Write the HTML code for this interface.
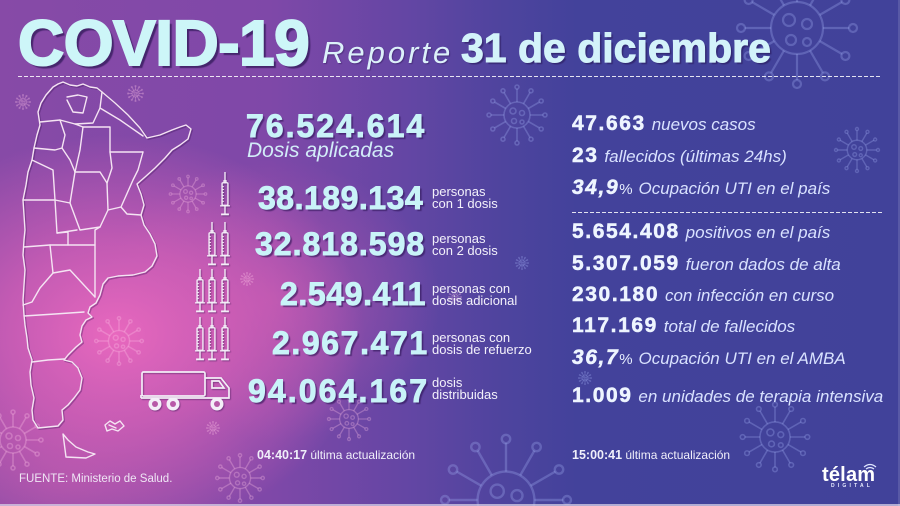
<!DOCTYPE html>
<html><head><meta charset="utf-8">
<style>
*{margin:0;padding:0;box-sizing:border-box}
html,body{width:900px;height:506px;overflow:hidden}
body{position:relative;font-family:"Liberation Sans",sans-serif;
background:
 radial-gradient(ellipse 250px 200px at 115px 335px, rgba(232,104,190,1) 0%, rgba(228,100,186,.65) 45%, rgba(220,96,180,0) 100%),
 radial-gradient(ellipse 170px 140px at 270px 300px, rgba(205,92,178,.55) 0%, rgba(205,92,178,0) 100%),
 radial-gradient(ellipse 200px 120px at 60px 480px, rgba(190,90,170,.5) 0%, rgba(190,90,170,0) 100%),
 linear-gradient(90deg,#874aa7 0%,#7f48a8 30%,#6446a4 45%,#4e449e 56%,#43429b 64%,#41429a 100%);}
.a{position:absolute;white-space:nowrap}
.big{font-weight:bold;font-size:32px;line-height:32px;color:#c9f3f8;-webkit-text-stroke:0.9px #c9f3f8;text-shadow:2px 2px 1px rgba(45,20,85,.6)}
.lbl{font-size:13px;line-height:12px;color:#f3f1fb}
.r{font-size:21px;line-height:21px;color:#eef5ff;left:572px;font-weight:bold}
.r b{letter-spacing:1.6px;-webkit-text-stroke:0.5px #eef5ff}
.r i{font-size:17px;color:#d9e2ff;font-weight:normal}
.r s{text-decoration:none;font-size:15px;font-weight:normal;color:#e6eeff}
.t{font-size:12px;line-height:12px;color:#f0effa}
svg{display:block;overflow:hidden}
</style></head><body>
<svg class="a" style="left:0;top:0" width="900" height="506" viewBox="0 0 900 506">
<defs>
<symbol id="v" viewBox="-32 -32 64 64">
<g fill="none">
<circle r="13" vector-effect="non-scaling-stroke"/>
<circle cx="-4" cy="-4" r="3" vector-effect="non-scaling-stroke"/>
<circle cx="5" cy="-2" r="2.5" vector-effect="non-scaling-stroke"/>
<circle cx="-3" cy="6" r="2.5" vector-effect="non-scaling-stroke"/>
<circle cx="5" cy="7" r="2" vector-effect="non-scaling-stroke"/>
<path vector-effect="non-scaling-stroke" d="M0,-13V-26M6.5,-11.3L13,-22.5M11.3,-6.5L22.5,-13M13,0H26M11.3,6.5L22.5,13M6.5,11.3L13,22.5M0,13V26M-6.5,11.3L-13,22.5M-11.3,6.5L-22.5,13M-13,0H-26M-11.3,-6.5L-22.5,-13M-6.5,-11.3L-13,-22.5"/>
<circle cx="0" cy="-28" r="2" vector-effect="non-scaling-stroke"/><circle cx="14" cy="-24.2" r="2" vector-effect="non-scaling-stroke"/><circle cx="24.2" cy="-14" r="2" vector-effect="non-scaling-stroke"/><circle cx="28" cy="0" r="2" vector-effect="non-scaling-stroke"/><circle cx="24.2" cy="14" r="2" vector-effect="non-scaling-stroke"/><circle cx="14" cy="24.2" r="2" vector-effect="non-scaling-stroke"/><circle cx="0" cy="28" r="2" vector-effect="non-scaling-stroke"/><circle cx="-14" cy="24.2" r="2" vector-effect="non-scaling-stroke"/><circle cx="-24.2" cy="14" r="2" vector-effect="non-scaling-stroke"/><circle cx="-28" cy="0" r="2" vector-effect="non-scaling-stroke"/><circle cx="-24.2" cy="-14" r="2" vector-effect="non-scaling-stroke"/><circle cx="-14" cy="-24.2" r="2" vector-effect="non-scaling-stroke"/>
</g>
</symbol>
<symbol id="s" viewBox="-1 -1 12 48">
<g fill="none" stroke="#f4eef8" stroke-width="1.4">
<path d="M5,0V10"/>
<rect x="4" y="9" width="2" height="2"/>
<rect x="2" y="11" width="6" height="23" rx="1"/>
<path d="M2,15H4M2,18H4M2,21H4M2,24H4M2,27H4M2,30H4" stroke-width="0.9"/>
<path d="M0,34.5H10M5,34.5V42.5"/>
<path d="M1,43.3H9" stroke-width="1.9"/>
</g>
</symbol>
</defs>

<!-- viruses -->
<g stroke="rgba(160,170,240,0.32)">
<use href="#v" x="733" y="-36" width="128" height="128" stroke-width="2.2"/>
<use href="#v" x="485" y="83" width="64" height="64" stroke-width="1.6"/>
<use href="#v" x="833" y="126" width="48" height="48" stroke-width="1.4"/>
<use href="#v" x="738" y="400" width="74" height="74" stroke-width="1.6"/>
<use href="#v" x="578" y="371" width="14" height="14" stroke-width="1"/>
<use href="#v" x="515" y="256" width="14" height="14" stroke-width="1"/>
<g fill="none" stroke-width="2.4">
<path d="M478.24,506 A28.4,28.4 0 1 1 533.76,506"/>
<circle cx="497.2" cy="491.2" r="6.6"/>
<circle cx="517" cy="495.6" r="5.5"/>
<path d="M506,471.6V443 M520.2,475.4L534.4,450.6 M530.6,485.8L555.4,471.5 M534.4,500H563 M491.8,475.4L477.6,450.6 M481.4,485.8L456.6,471.5 M477.6,500H449"/>
<circle cx="506" cy="439" r="4.2"/><circle cx="536.6" cy="447" r="4.2"/><circle cx="559" cy="469.5" r="4.2"/><circle cx="567" cy="500" r="4"/><circle cx="475.4" cy="447" r="4.2"/><circle cx="453" cy="469.5" r="4.2"/><circle cx="445" cy="500" r="4"/>
</g>
</g>
<g stroke="rgba(255,195,232,0.3)">
<use href="#v" x="-19" y="408" width="64" height="64" stroke-width="1.6"/>
<use href="#v" x="93" y="315" width="52" height="52" stroke-width="1.5"/>
<use href="#v" x="168" y="174" width="40" height="40" stroke-width="1.3"/>
<use href="#v" x="214" y="452" width="52" height="52" stroke-width="1.4"/>
<use href="#v" x="326" y="396" width="46" height="46" stroke-width="1.3"/>
<use href="#v" x="15" y="94" width="16" height="16" stroke-width="1.1"/>
<use href="#v" x="127" y="85" width="17" height="17" stroke-width="1.1"/>
<use href="#v" x="206" y="421" width="14" height="14" stroke-width="1"/>
<use href="#v" x="240" y="272" width="14" height="14" stroke-width="1"/>
<use href="#v" x="448" y="290" width="14" height="14" stroke-width="1"/>
</g>

<!-- dashed lines -->
<line x1="18" y1="76.5" x2="882" y2="76.5" stroke="rgba(255,255,255,0.85)" stroke-width="1" stroke-dasharray="4 2"/>
<line x1="572" y1="212.5" x2="882" y2="212.5" stroke="rgba(255,255,255,0.85)" stroke-width="1" stroke-dasharray="4 2"/>

<!-- map -->
<g fill="none" stroke-linejoin="round" stroke-linecap="round">
<g stroke="rgba(60,20,90,0.35)" stroke-width="1.6" transform="translate(1.2,1.2)">
<path d="M53,87 L58,84 L63,82 L70,85 L77,86 L83,84 L90,87 L97,88 L102,92 L115,103 L128,115 L140,128 L147,138 L160,135 L172,130 L180,127 L186,125 L191,129 L188,139 L180,145 L172,150 L165,158 L155,168 L145,177 L137,184 L141,194 L144,205 L141,215 L144,225 L150,234 L155,244 L157,256 L152,266 L145,272 L133,275 L118,276 L108,278 L103,284 L100,295 L96,303 L90,307 L88,313 L92,317 L86,320 L82,326 L80,335 L82,342 L76,347 L68,355 L64,360 L72,362 L78,368 L82,378 L80,390 L74,398 L68,405 L62,410 L63,420 L58,426 L48,427 L38,428 L33,420 L32,410 L34,398 L31,385 L30,372 L32,360 L28,348 L27,338 L25,325 L24,315 L23,300 L24,285 L25,270 L23,255 L24,240 L25,230 L24,215 L23,200 L26,185 L28,172 L32,160 L34,148 L37,135 L40,125 L38,112 L41,103 L46,95 Z"/>
</g>
<g stroke="#f5e4f3" stroke-width="1.4">
<path d="M53,87 L58,84 L63,82 L70,85 L77,86 L83,84 L90,87 L97,88 L102,92 L115,103 L128,115 L140,128 L147,138 L160,135 L172,130 L180,127 L186,125 L191,129 L188,139 L180,145 L172,150 L165,158 L155,168 L145,177 L137,184 L141,194 L144,205 L141,215 L144,225 L150,234 L155,244 L157,256 L152,266 L145,272 L133,275 L118,276 L108,278 L103,284 L100,295 L96,303 L90,307 L88,313 L92,317 L86,320 L82,326 L80,335 L82,342 L76,347 L68,355 L64,360 L72,362 L78,368 L82,378 L80,390 L74,398 L68,405 L62,410 L63,420 L58,426 L48,427 L38,428 L33,420 L32,410 L34,398 L31,385 L30,372 L32,360 L28,348 L27,338 L25,325 L24,315 L23,300 L24,285 L25,270 L23,255 L24,240 L25,230 L24,215 L23,200 L26,185 L28,172 L32,160 L34,148 L37,135 L40,125 L38,112 L41,103 L46,95 Z"/>
<path d="M63,434 L66,457 L86,458 L95,454 L88,452 L76,447 L68,440 Z"/>
<path d="M105,425 L110,421 L115,424 L120,421 L124,426 L118,431 L112,429 L107,431 Z M109,425 L116,428"/>
<path d="M67,97 L78,95 L87,97 L83,113 L73,112 L67,100"/>
<path d="M40,122 L60,120 L75,124 L93,123 L100,108 L102,92"/>
<path d="M100,108 L120,120 L143,136"/>
<path d="M83,127 L110,127 L110,152 L143,152"/>
<path d="M60,120 L65,135 L62,148"/>
<path d="M75,124 L83,127 L80,150 L75,172"/>
<path d="M34,148 L55,150 L62,148 L70,160 L75,172"/>
<path d="M75,172 L100,172 L107,183 L108,210 L100,227 L80,230 L70,203 L75,172"/>
<path d="M110,152 L112,168 L107,183"/>
<path d="M143,152 L138,170 L133,180 L125,198 L121,207 L127,214 L141,215"/>
<path d="M108,210 L121,207"/>
<path d="M100,227 L95,230 L95,297"/>
<path d="M32,160 L53,170 L55,200"/>
<path d="M23,200 L55,200 L70,203"/>
<path d="M55,200 L57,233 L77,230"/>
<path d="M57,233 L68,232 L68,245"/>
<path d="M24,247 L50,245 L95,245"/>
<path d="M50,245 L53,273 L70,270 L95,297"/>
<path d="M53,273 L40,288 L32,302 L23,305"/>
<path d="M24,316 L55,314 L84,312"/>
<path d="M32,362 L48,360 L64,359"/>
</g>
</g>

<!-- syringes -->
<g style="filter:drop-shadow(1px 1px 0.5px rgba(50,20,80,.45))">
<use href="#s" x="219" y="171" width="12" height="47"/>
<use href="#s" x="206" y="221" width="12" height="47"/>
<use href="#s" x="219" y="221" width="12" height="47"/>
<use href="#s" x="194" y="268" width="12" height="47"/>
<use href="#s" x="206" y="268" width="12" height="47"/>
<use href="#s" x="219" y="268" width="12" height="47"/>
<use href="#s" x="194" y="316" width="12" height="47"/>
<use href="#s" x="206" y="316" width="12" height="47"/>
<use href="#s" x="219" y="316" width="12" height="47"/>
<!-- truck -->
<g fill="none" stroke="#f4eef8" stroke-width="1.7">
<rect x="142" y="372" width="63" height="24" rx="1.5"/>
<path d="M205,378 H221 L229,388 V398 H141"/>
<path d="M212,381 H219 L224,388 H212 Z"/>
<path d="M141,398 V395"/>
</g>
<g fill="#f4eef8" stroke="none">
<circle cx="155" cy="404" r="6.5"/><circle cx="173" cy="404" r="6.5"/><circle cx="217" cy="404" r="6.5"/>
</g>
<g fill="#b85aa8">
<circle cx="155" cy="404" r="3"/><circle cx="173" cy="404" r="3"/><circle cx="217" cy="404" r="3"/>
</g>
</g>

<!-- telam wifi -->
<g fill="none" stroke="#dfe6ff" stroke-width="1.2">
<path d="M864,467 Q870,462 876,467"/>
<path d="M866,469 Q870,466 874,469"/>
</g>
<!-- bottom/right border -->
<rect x="0" y="504" width="900" height="2" fill="rgba(215,210,230,0.75)"/>
<rect x="898" y="0" width="2" height="506" fill="rgba(255,255,255,0.12)"/>
</svg>

<!-- title -->
<div class="a" style="left:18px;top:11px;font-size:64px;line-height:64px;font-weight:bold;letter-spacing:-0.5px;color:#cdf6f8;-webkit-text-stroke:2px #cdf6f8;text-shadow:3px 3px 1px rgba(50,25,90,.75)">COVID-19</div>
<div class="a" style="left:322px;top:37px;font-size:31px;line-height:31px;font-style:italic;letter-spacing:3px;color:#dcf1fa;text-shadow:1px 1px 1px rgba(50,25,90,.5)">Reporte</div>
<div class="a" style="left:461px;top:28px;font-size:41px;line-height:41px;font-weight:bold;color:#d3f3fa;-webkit-text-stroke:1px #d3f3fa;text-shadow:2px 2px 1px rgba(40,25,90,.6)">31 de diciembre</div>

<!-- left numbers -->
<div class="a big" style="left:246px;top:110px;letter-spacing:2px">76.524.614</div>
<div class="a" style="left:247px;top:140px;font-size:21px;line-height:21px;font-style:italic;color:#d2ecf8">Dosis aplicadas</div>

<div class="a big" style="left:258px;top:182px;letter-spacing:0.5px">38.189.134</div>
<div class="a lbl" style="left:432px;top:185.5px">personas<br>con 1 dosis</div>

<div class="a big" style="left:255px;top:228px;letter-spacing:1px">32.818.598</div>
<div class="a lbl" style="left:432px;top:232.5px">personas<br>con 2 dosis</div>

<div class="a big" style="left:280px;top:278px;letter-spacing:0.6px">2.549.411</div>
<div class="a lbl" style="left:432px;top:282.5px">personas con<br>dosis adicional</div>

<div class="a big" style="left:272px;top:327px;letter-spacing:1.6px">2.967.471</div>
<div class="a lbl" style="left:432px;top:331.5px">personas con<br>dosis de refuerzo</div>

<div class="a big" style="left:248px;top:375px;letter-spacing:2.1px">94.064.167</div>
<div class="a lbl" style="left:432px;top:376.5px">dosis<br>distribuidas</div>

<div class="a t" style="left:257px;top:449px"><span style="font-weight:bold;font-size:12.5px">04:40:17</span> última actualización</div>
<div class="a" style="left:19px;top:473px;font-size:11.5px;line-height:12px;color:#efe6f5">FUENTE: Ministerio de Salud.</div>

<!-- right column -->
<div class="a r" style="top:113px"><b>47.663</b> <i>nuevos casos</i></div>
<div class="a r" style="top:145px"><b>23</b> <i>fallecidos (últimas 24hs)</i></div>
<div class="a r" style="top:177px"><b style="font-style:italic">34,9</b><s>%</s> <i>Ocupación UTI en el país</i></div>
<div class="a r" style="top:221px"><b>5.654.408</b> <i>positivos en el país</i></div>
<div class="a r" style="top:253px"><b>5.307.059</b> <i>fueron dados de alta</i></div>
<div class="a r" style="top:284px"><b>230.180</b> <i>con infección en curso</i></div>
<div class="a r" style="top:315px"><b>117.169</b> <i>total de fallecidos</i></div>
<div class="a r" style="top:347px"><b style="font-style:italic">36,7</b><s>%</s> <i>Ocupación UTI en el AMBA</i></div>
<div class="a r" style="top:385px"><b>1.009</b> <i>en unidades de terapia intensiva</i></div>

<div class="a t" style="left:572px;top:449px"><span style="font-weight:bold;font-size:12.5px">15:00:41</span> última actualización</div>

<!-- logo -->
<div class="a" style="left:822px;top:465px;font-size:20px;line-height:20px;font-weight:bold;color:#ffffff;letter-spacing:0.2px">télam</div>
<div class="a" style="left:831px;top:484px;font-size:5px;line-height:5px;font-weight:bold;color:#e8ecff;letter-spacing:3.2px">DIGITAL</div>
</body></html>
